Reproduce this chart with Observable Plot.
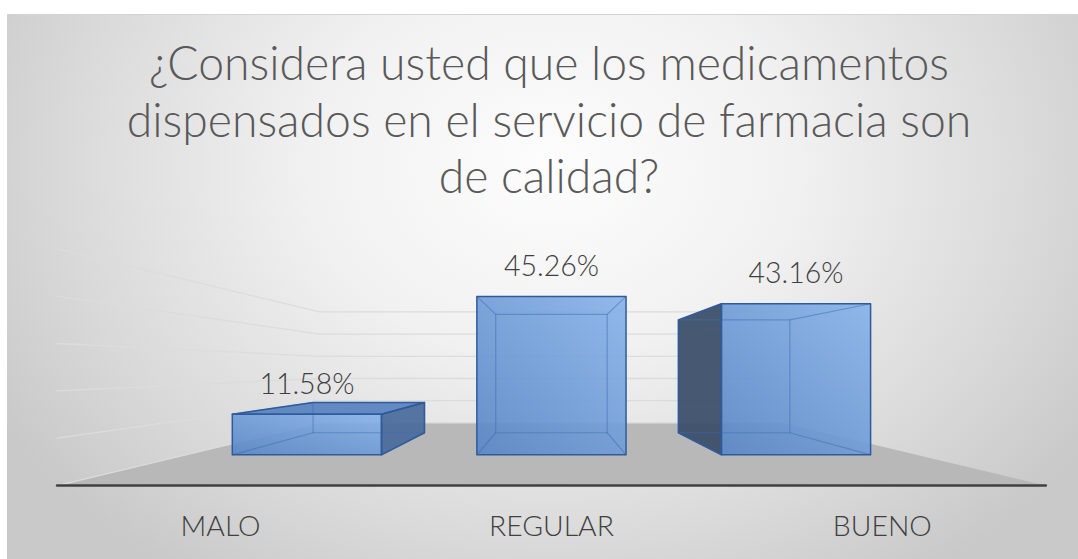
<!DOCTYPE html>
<html>
<head>
<meta charset="utf-8">
<script src="https://cdn.jsdelivr.net/npm/d3@7"></script>
<script src="https://cdn.jsdelivr.net/npm/@observablehq/plot@0.6"></script>
<style>
html, body { margin: 0; padding: 0; background: #ffffff; }
#wrap { position: relative; width: 1078px; height: 559px; overflow: hidden; }
#bg { position: absolute; left: 7px; top: 14px; right: 0; bottom: 0;
  border-top: 1px solid #d4d4d4;
  background: radial-gradient(ellipse 640px 500px at 545px 150px, #fdfdfd 0%, #f1f1f1 38%, #dadada 75%, #c9c9c9 100%); }
.tline { position: absolute; left: 10px; width: 1078px; text-align: center; color: #595959;
  font-family: Lato, "Open Sans", sans-serif; font-weight: 300; white-space: nowrap; }
#chart { position: absolute; left: 0; top: 210px; }
</style>
</head>
<body>
<div id="wrap"><div id="bg"></div><div id="titleBox"></div><div id="chart"></div></div>
<script>
// ---------- data ----------
const categories = ["MALO", "REGULAR", "BUENO"];
const values = [11.58, 45.26, 43.16];
const valueLabels = ["11.58%", "45.26%", "43.16%"];
const gridTicks = [0, 10, 20, 30, 40, 50];
const titleLines = [
  "¿Considera usted que los medicamentos",
  "dispensados en el servicio de farmacia son",
  "de calidad?"
];

// ---------- 3D view (camera) parameters, in data units ----------
const VX = 1, VY = 24.9;            // vanishing point
const K_BACK = 0.747;               // depth factor of bar back faces
const K_WALL = 0.634;               // depth factor of back wall
const K_FRONT = 1.353;              // depth factor of floor front edge
const HALF = 0.305;                 // half bar width (category units)
const WALL_L = VX - 1.494, WALL_R = VX + 1.494;
const proj = (x, y, s) => ({x: VX + (x - VX) * s, y: VY + (y - VY) * s});

// ---------- fonts ----------
const FAMILY = "Lato";
const ctx = document.createElement("canvas").getContext("2d");
function measure(text, size, weight = 400) {
  ctx.font = `${weight} ${size}px ${FAMILY}`;
  return ctx.measureText(text);
}
function fit(text, target, weight = 400) {
  return 40 * target / measure(text, 40, weight).width;
}

// ---------- title ----------
const titleSize = fit(titleLines[0], 800, 300);
const titleBaselines = [80, 137, 193];
const box = document.getElementById("titleBox");
titleLines.forEach((t, i) => {
  const m = measure(t, titleSize, 300);
  const A = m.fontBoundingBoxAscent, D = m.fontBoundingBoxDescent;
  const L = titleSize * 1.3;
  const d = document.createElement("div");
  d.className = "tline";
  d.textContent = t;
  d.style.fontSize = titleSize + "px";
  d.style.lineHeight = L + "px";
  d.style.top = (titleBaselines[i] - ((L - (A + D)) / 2 + A)) + "px";
  box.appendChild(d);
});

// ---------- geometry from data ----------
const fronts = [], tops = [], lefts = [], rights = [], hidden = [];
const add = (arr, id, pts) => pts.forEach(p => arr.push({id, ...p}));
values.forEach((h, i) => {
  const x0 = i - HALF, x1 = i + HALF;
  const F = (x, y) => proj(x, y, 1), B = (x, y) => proj(x, y, K_BACK);
  add(fronts, i, [F(x0, 0), F(x1, 0), F(x1, h), F(x0, h)]);
  if (h < VY) add(tops, i, [F(x0, h), F(x1, h), B(x1, h), B(x0, h)]);
  if (x0 > VX) add(lefts, i, [F(x0, 0), F(x0, h), B(x0, h), B(x0, 0)]);
  if (x1 < VX) add(rights, i, [F(x1, 0), F(x1, h), B(x1, h), B(x1, 0)]);
  add(hidden, `${i}b`, [B(x0, 0), B(x1, 0), B(x1, h), B(x0, h), B(x0, 0)]);
  [[x0, 0], [x1, 0], [x1, h], [x0, h]].forEach(([x, y], j) => add(hidden, `${i}c${j}`, [F(x, y), B(x, y)]));
});
const grid = [];
gridTicks.forEach(t => add(grid, t, [proj(WALL_L, t, K_FRONT), proj(WALL_L, t, K_WALL), proj(WALL_R, t, K_WALL)]));
const floor = [];
add(floor, "f", [proj(WALL_L, 0, K_FRONT), proj(WALL_R, 0, K_FRONT), proj(WALL_R, 0, K_WALL), proj(WALL_L, 0, K_WALL)]);
const axisLine = [];
add(axisLine, "a", [proj(WALL_L, 0, K_FRONT), proj(WALL_R, 0, K_FRONT)]);
const labelRows = values.map((v, i) => ({x: i, y: v, text: valueLabels[i]}));
const catRows = categories.map((c, i) => ({...proj(i, 0, K_FRONT), text: c}));

const labelSize = fit("45.26%", 95, 300);
const catSize = fit("MALO", 80, 300);

const closed = {x: "x", y: "y", z: "id", curve: "linear-closed"};
const open = {x: "x", y: "y", z: "id"};

const svg = Plot.plot({
  width: 1078,
  height: 349,
  margin: 0,
  x: {type: "linear", domain: [0, 2], range: [306.4, 795.5], axis: null},
  y: {type: "linear", domain: [0, 60], range: [244.3, 34.3], axis: null},
  style: {background: "transparent", overflow: "visible"},
  marks: [
    Plot.line(floor, {...closed, fill: "#b8b8b8", stroke: "none"}),
    Plot.line(grid, {...open, stroke: "#dcdcdc", strokeWidth: 1.3}),
    Plot.line(axisLine, {...open, stroke: "#404040", strokeWidth: 2.6, strokeLinecap: "round"}),
    Plot.line(rights, {...closed, fill: "#4a6b9c", fillOpacity: 0.93, stroke: "none"}),
    Plot.line(lefts, {...closed, fill: "#394c68", fillOpacity: 0.93, stroke: "none"}),
    Plot.line(tops, {...closed, fill: "#5882bf", fillOpacity: 0.93, stroke: "none"}),
    Plot.line(fronts, {...closed, fill: "url(#frontGrad)", fillOpacity: 0.9, stroke: "none"}),
    Plot.line(hidden, {...open, stroke: "#3d6db0", strokeOpacity: 0.5, strokeWidth: 1.2}),
    Plot.line(rights, {...closed, fill: "none", stroke: "#2f5b9b", strokeWidth: 1.5}),
    Plot.line(lefts, {...closed, fill: "none", stroke: "#2f5b9b", strokeWidth: 1.5}),
    Plot.line(tops, {...closed, fill: "none", stroke: "#2f5b9b", strokeWidth: 1.5}),
    Plot.line(fronts, {...closed, fill: "none", stroke: "#2f5b9b", strokeWidth: 1.5}),
    Plot.text(labelRows, {x: "x", y: "y", text: "text", dy: -20.5, lineAnchor: "bottom",
      fontSize: labelSize, fontFamily: FAMILY, fontWeight: 300, fill: "#404040"}),
    Plot.text(catRows, {x: "x", y: "y", text: "text", dy: 50, lineAnchor: "bottom",
      fontSize: catSize, fontFamily: FAMILY, fontWeight: 300, fill: "#404040"})
  ]
});

const ns = "http://www.w3.org/2000/svg";
const defs = document.createElementNS(ns, "defs");
const lg = document.createElementNS(ns, "linearGradient");
lg.setAttribute("id", "frontGrad");
lg.setAttribute("x1", "1"); lg.setAttribute("y1", "0");
lg.setAttribute("x2", "0"); lg.setAttribute("y2", "1");
[["0%", "#86b2ea"], ["100%", "#5886c6"]].forEach(([o, c]) => {
  const s = document.createElementNS(ns, "stop");
  s.setAttribute("offset", o); s.setAttribute("stop-color", c);
  lg.appendChild(s);
});
defs.appendChild(lg);
svg.prepend(defs);
document.getElementById("chart").appendChild(svg);
</script>
</body>
</html>
